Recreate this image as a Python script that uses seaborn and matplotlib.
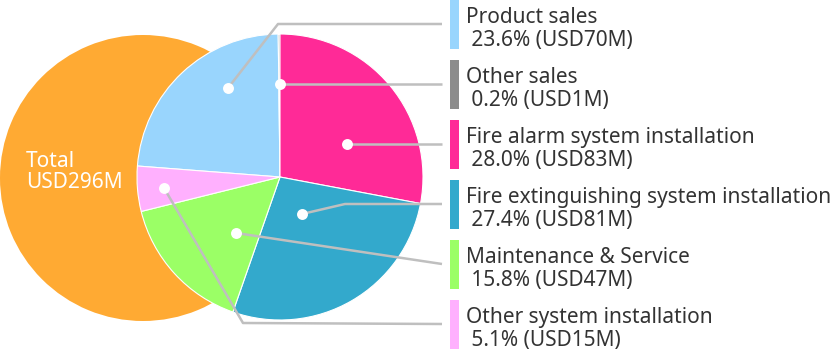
import matplotlib
matplotlib.use("Agg")
import matplotlib.pyplot as plt
import seaborn as sns

sns.set_theme(style="white")
plt.rcParams['font.family'] = ['Noto Sans', 'DejaVu Sans']

# data (legend order)
labels = ["Product sales", "Other sales", "Fire alarm system installation",
          "Fire extinguishing system installation", "Maintenance & Service",
          "Other system installation"]
shares = [23.6, 0.2, 28.0, 27.4, 15.8, 5.1]
amounts = [70, 1, 83, 81, 47, 15]
colors = ["#99D5FD", "#8C8C8C", "#FF2A97", "#33A9CC", "#9BFF66", "#FFB0FE"]
total_lines = ["Total", "USD296M"]
total_value = 296

# layout, pixel coords with y going up (figure is 832x356)
W, H = 832, 356
pie_c = (280, 179)
total_c = (143, 178)
R = 143
dots = [(228, 268), (280, 272), (347, 212), (302, 142), (236, 123), (164, 168)]
elbows = [(278, 332), None, None, (345, 152), None, (243, 33)]
row_y = [332 - 60 * i for i in range(6)]
line_end = 442
fs = 15

fig = plt.figure(figsize=(W / 100, H / 100), dpi=100)
ax = fig.add_axes([0, 0, 1, 1])

# big total circle
ax.pie([total_value], colors=["#FFAA33"], center=total_c, radius=R,
       wedgeprops=dict(linewidth=0))

# breakdown pie, Fire alarm starts at 12 o'clock going clockwise
start = 90 + 360 * (shares[0] + shares[1]) / sum(shares)
ax.pie(shares, colors=colors, center=pie_c, radius=R, startangle=start,
       counterclock=False, wedgeprops=dict(edgecolor="white", linewidth=0.8))

ax.text(26, 189, total_lines[0], color="white", fontsize=fs, va="baseline")
ax.text(26, 168, total_lines[1], color="white", fontsize=fs, va="baseline")

# leader lines
for d, e, y in zip(dots, elbows, row_y):
    xs, ys = [d[0]], [d[1]]
    if e is not None:
        xs.append(e[0]); ys.append(e[1])
    xs.append(line_end); ys.append(y)
    ax.plot(xs, ys, color="#BFBFBF", lw=1.8, solid_capstyle="butt", zorder=4)

ax.scatter([d[0] for d in dots], [d[1] for d in dots], s=62, color="white",
           linewidths=0, zorder=5)

# legend blocks
ax.bar([454.5] * 6, [49] * 6, width=9, bottom=[y - 24.5 for y in row_y],
       color=colors, linewidth=0)
for lab, sh, am, y in zip(labels, shares, amounts, row_y):
    ax.text(466, y + 1, lab, fontsize=fs, color="#333333", va="baseline")
    ax.text(466, y - 22, f" {sh:.1f}% (USD{am}M)", fontsize=fs,
            color="#333333", va="baseline")

ax.set_xlim(0, W)
ax.set_ylim(0, H)
ax.set_aspect("equal")
ax.axis("off")

fig.savefig("out.png", dpi=100)
